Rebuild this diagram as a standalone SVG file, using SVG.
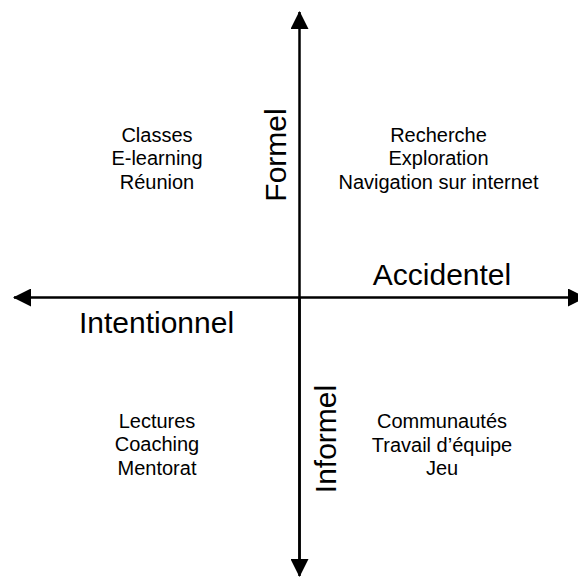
<svg xmlns="http://www.w3.org/2000/svg" width="578" height="578" viewBox="0 0 578 578">
<style>
  .axis { stroke:#000; stroke-width:2.5; fill:none; }
  .big { font-family:"Liberation Sans", Arial, sans-serif; font-size:30px; fill:#000; text-anchor:middle; }
  .small { font-family:"Liberation Sans", Arial, sans-serif; font-size:20px; fill:#000; text-anchor:middle; }
</style>
<defs>
  <marker id="arrow" viewBox="0 0 18 18" refX="17" refY="9" markerWidth="18" markerHeight="18" markerUnits="userSpaceOnUse" orient="auto-start-reverse">
    <path d="M0,0 L18,9 L0,18 Z" fill="#000"/>
  </marker>
</defs>
<rect width="578" height="578" fill="#fff"/>
<g id="connectors">
  <line class="axis" x1="299.5" y1="565" x2="299.5" y2="12" marker-end="url(#arrow)"/>
  <line class="axis" x1="299.5" y1="297.5" x2="299.5" y2="576" marker-end="url(#arrow)"/>
  <line class="axis" x1="299.5" y1="297.5" x2="14" y2="297.5" marker-end="url(#arrow)"/>
  <line class="axis" x1="299.5" y1="297.5" x2="585" y2="297.5" marker-end="url(#arrow)"/>
</g>
<g id="axis-labels">
  <text class="big" transform="translate(286,155) rotate(-90)">Formel</text>
  <text class="big" transform="translate(336,439) rotate(-90)">Informel</text>
  <text class="big" x="156.5" y="333">Intentionnel</text>
  <text class="big" x="442" y="285">Accidentel</text>
</g>
<g id="q-top-left">
  <text class="small" x="157" y="141.5">Classes</text>
  <text class="small" x="157" y="165">E-learning</text>
  <text class="small" x="157" y="188.5">Réunion</text>
</g>
<g id="q-top-right">
  <text class="small" x="438.5" y="141.5">Recherche</text>
  <text class="small" x="438.5" y="165">Exploration</text>
  <text class="small" x="438.5" y="188.5">Navigation sur internet</text>
</g>
<g id="q-bottom-left">
  <text class="small" x="157" y="427.5">Lectures</text>
  <text class="small" x="157" y="451">Coaching</text>
  <text class="small" x="157" y="474.5">Mentorat</text>
</g>
<g id="q-bottom-right">
  <text class="small" x="442" y="428">Communautés</text>
  <text class="small" x="442" y="451.5">Travail d’équipe</text>
  <text class="small" x="442" y="475">Jeu</text>
</g>
</svg>
